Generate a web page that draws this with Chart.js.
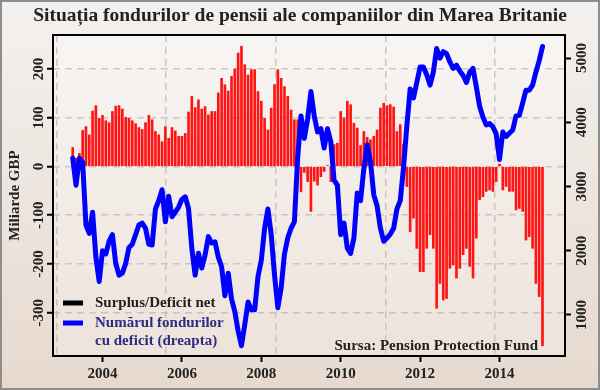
<!DOCTYPE html>
<html lang="ro">
<head>
  <meta charset="UTF-8" />
  <title>Situația fondurilor de pensii</title>
  <script src="https://cdn.jsdelivr.net/npm/chart.js"></script>
  <style>
    body { margin: 0; background: #ffffff; }
    #wrap { width: 600px; height: 390px; }
  </style>
</head>
<body>
<div id="wrap"><canvas id="pensionChart" width="600" height="390"></canvas></div>
<script>
// monthly data, first point April 2003
const startYear = 2003;
const startMonth = 4;

// net surplus / deficit, bn GBP (bars, left axis)
const surplus = [
  39, 17, 27, 74, 82, 65, 114, 125, 99, 105, 94, 90,
  113, 124, 125, 118, 101, 99, 94, 88, 80, 76, 90, 105,
  96, 72, 65, 51, 82, 58, 80, 73, 62, 62, 68, 112,
  144, 121, 137, 118, 123, 106, 113, 113, 151, 181, 168, 155,
  185, 200, 233, 247, 209, 188, 199, 199, 154, 134, 99, 75,
  120, 168, 199, 181, 164, 144, 116, 96, 96, -52, -12, -31,
  -92, -30, -38, -21, -10, 2, -31, 45, 48, 113, 99, 134,
  127, 89, 79, 43, 72, 60, 55, 62, 75, 120, 130, 125,
  127, 122, 72, 86, 46, -41, -134, -106, -168, -216, -216, -168,
  -140, -168, -291, -240, -274, -271, -209, -202, -229, -209, -181, -168,
  -205, -229, -147, -68, -62, -51, -48, -51, -31, 5, -48, -41,
  -51, -51, -89, -86, -92, -151, -144, -168, -240, -267, -368
];

// number of schemes in deficit (line, right axis)
const schemes = [
  3440, 3020, 3440, 3380, 2400, 2270, 2600, 1900, 1520, 2000, 1950, 2150,
  2250, 1800, 1620, 1650, 1800, 2050, 2100, 2250, 2400, 2430, 2350, 2100,
  2090, 2650, 2780, 2950, 2450, 2850, 2530, 2600, 2680, 2800, 2840, 2660,
  2040, 1620, 1960, 1730, 1930, 2220, 2120, 2140, 1900, 1750, 1300, 1650,
  1250, 1050, 750, 520, 850, 1200, 1080, 1080, 1600, 1850, 2350, 2650,
  2250, 1620, 1110, 1420, 1950, 2200, 2350, 2450, 3450, 4100, 3750, 4050,
  4480, 4100, 3850, 3900, 3600, 3900, 3700, 3100, 3020, 2250, 2430, 2040,
  1960, 2200, 2900, 2780, 3280, 3650, 3390, 2870, 2700, 2350, 2150, 2200,
  2260, 2350, 2650, 2780, 3300, 3950, 4520, 4380, 4620, 4860, 4860, 4740,
  4580, 4780, 5150, 5000, 5100, 5070, 4940, 4840, 4890, 4800, 4730, 4620,
  4780, 4840, 4550, 4250, 4080, 3960, 3980, 3930, 3820, 3420, 3850, 3780,
  3830, 3880, 4100, 4110, 4300, 4500, 4500, 4580, 4780, 4960, 5180
];

const yearTicks = [2004, 2006, 2008, 2010, 2012, 2014];
const gbpTicks = [-300, -200, -100, 0, 100, 200];
const schemeTicks = [1000, 2000, 3000, 4000, 5000];
// vertical dashed grid lines (they don't sit on the year ticks in the original)
const gridYears = [2002.86, 2005.6, 2008.36, 2011.13, 2013.88];

const months = surplus.map((_, i) => startYear + (startMonth - 1 + i) / 12);

const serif = '"Liberation Serif", "Times New Roman", serif';
const inkColor = '#222222';
const gridColor = 'rgba(196, 180, 180, 0.75)';
const labelBlue = '#2f2a82';

const setTicks = list => axis => { axis.ticks = list.map(v => ({ value: v })); };

// backgrounds, plot frame, legend and source note
const decorPlugin = {
  id: 'decor',
  beforeDraw(chart) {
    const { ctx, chartArea: a, width, height } = chart;
    ctx.save();
    let g = ctx.createLinearGradient(0, 0, 0, height);
    g.addColorStop(0, '#f3f1ef');
    g.addColorStop(1, '#e7d9ce');
    ctx.fillStyle = g;
    ctx.fillRect(0, 0, width, height);
    g = ctx.createLinearGradient(0, a.top, 0, a.bottom);
    g.addColorStop(0, '#f7f5f3');
    g.addColorStop(1, '#eee3db');
    ctx.fillStyle = g;
    ctx.fillRect(a.left, a.top, a.right - a.left, a.bottom - a.top);
    ctx.strokeStyle = '#8e8e8e';
    ctx.lineWidth = 2;
    ctx.strokeRect(1, 1, width - 2, height - 2);
    ctx.restore();
  },
  afterDatasetsDraw(chart) {
    const { ctx, chartArea: a } = chart;
    ctx.save();
    ctx.strokeStyle = '#000';
    ctx.lineWidth = 2;
    ctx.strokeRect(a.left, a.top, a.right - a.left, a.bottom - a.top);
    ctx.restore();
  },
  afterDraw(chart) {
    const { ctx, chartArea: a } = chart;
    ctx.save();
    ctx.font = 'bold 15px ' + serif;
    ctx.textBaseline = 'middle';
    ctx.textAlign = 'left';
    ctx.lineWidth = 5;
    // legend entries, taken from the datasets
    const entries = [
      { ds: chart.data.datasets[1], color: '#000000', text: inkColor },
      { ds: chart.data.datasets[0], color: '#0000ff', text: labelBlue }
    ];
    let y = a.bottom - 53;
    entries.forEach(e => {
      ctx.strokeStyle = e.color;
      ctx.beginPath();
      ctx.moveTo(a.left + 10, y);
      ctx.lineTo(a.left + 30, y);
      ctx.stroke();
      ctx.fillStyle = e.text;
      [].concat(e.ds.label).forEach((line, j) => {
        ctx.fillText(line, a.left + 42, y + j * 18);
      });
      y += 20;
    });
    ctx.fillStyle = inkColor;
    ctx.textAlign = 'right';
    ctx.fillText('Sursa: Pension Protection Fund', a.right - 27, a.bottom - 10);
    ctx.restore();
  }
};

new Chart(document.getElementById('pensionChart'), {
  data: {
    datasets: [
      {
        type: 'line',
        label: ['Numărul fondurilor', 'cu deficit (dreapta)'],
        data: months.map((m, i) => ({ x: m, y: schemes[i] })),
        xAxisID: 'x',
        yAxisID: 'yRight',
        borderColor: '#0000ff',
        borderWidth: 5,
        borderJoinStyle: 'round',
        borderCapStyle: 'round',
        pointRadius: 0,
        tension: 0,
        order: 0
      },
      {
        type: 'bar',
        label: 'Surplus/Deficit net',
        data: months.map((m, i) => ({ x: m, y: surplus[i] })),
        xAxisID: 'x',
        yAxisID: 'yLeft',
        backgroundColor: '#ff1414',
        borderWidth: 0,
        barThickness: 2,
        order: 1
      }
    ]
  },
  options: {
    responsive: false,
    animation: false,
    layout: { padding: 0 },
    scales: {
      x: {
        type: 'linear',
        position: 'bottom',
        offset: false,
        min: 2002.753,
        max: 2015.65,
        afterBuildTicks: setTicks(yearTicks),
        afterFit: s => { s.height = 34; },
        grid: { drawOnChartArea: false, offset: false, tickLength: 6, tickColor: '#000', tickWidth: 2 },
        border: { display: false },
        ticks: {
          color: inkColor,
          font: { family: serif, size: 15, weight: 'bold' },
          padding: 3,
          minRotation: 0,
          maxRotation: 0,
          callback: v => String(v)
        }
      },
      xGrid: {
        type: 'linear',
        position: 'top',
        offset: false,
        min: 2002.753,
        max: 2015.65,
        afterBuildTicks: setTicks(gridYears),
        afterFit: s => { s.height = 0; },
        grid: { color: gridColor, lineWidth: 1.5, drawTicks: false },
        border: { display: false, dash: [7, 5] },
        ticks: { display: false }
      },
      yLeft: {
        type: 'linear',
        position: 'left',
        min: -389,
        max: 270,
        afterBuildTicks: setTicks(gbpTicks),
        afterFit: s => { s.width = 53; },
        grid: {
          color: gridColor,
          lineWidth: 1.5,
          tickLength: 6,
          tickColor: '#000',
          tickWidth: 2,
          tickBorderDash: []
        },
        border: { display: false, dash: [7, 5] },
        ticks: {
          color: inkColor,
          font: { family: serif, size: 15, weight: 'bold' },
          minRotation: 90,
          maxRotation: 90,
          crossAlign: 'center',
          padding: -6,
          callback: v => String(v)
        },
        title: {
          display: true,
          text: 'Miliarde GBP',
          color: inkColor,
          font: { family: serif, size: 15, weight: 'bold' },
          padding: { top: 6, bottom: 0 }
        }
      },
      yRight: {
        type: 'linear',
        position: 'right',
        min: 360,
        max: 5360,
        afterBuildTicks: setTicks(schemeTicks),
        afterFit: s => { s.width = 35; },
        grid: { drawOnChartArea: false, tickLength: 6, tickColor: '#000', tickWidth: 2 },
        border: { display: false },
        ticks: {
          color: inkColor,
          font: { family: serif, size: 15, weight: 'bold' },
          minRotation: 90,
          maxRotation: 90,
          crossAlign: 'center',
          padding: -4,
          callback: v => String(v)
        }
      }
    },
    plugins: {
      legend: { display: false },
      tooltip: { enabled: false },
      title: {
        display: true,
        text: 'Situația fondurilor de pensii ale companiilor din Marea Britanie',
        color: inkColor,
        font: { family: serif, size: 19.5, weight: 'bold', lineHeight: 1.2 },
        padding: { top: 4, bottom: 7.6 }
      }
    }
  },
  plugins: [decorPlugin]
});
</script>
</body>
</html>
